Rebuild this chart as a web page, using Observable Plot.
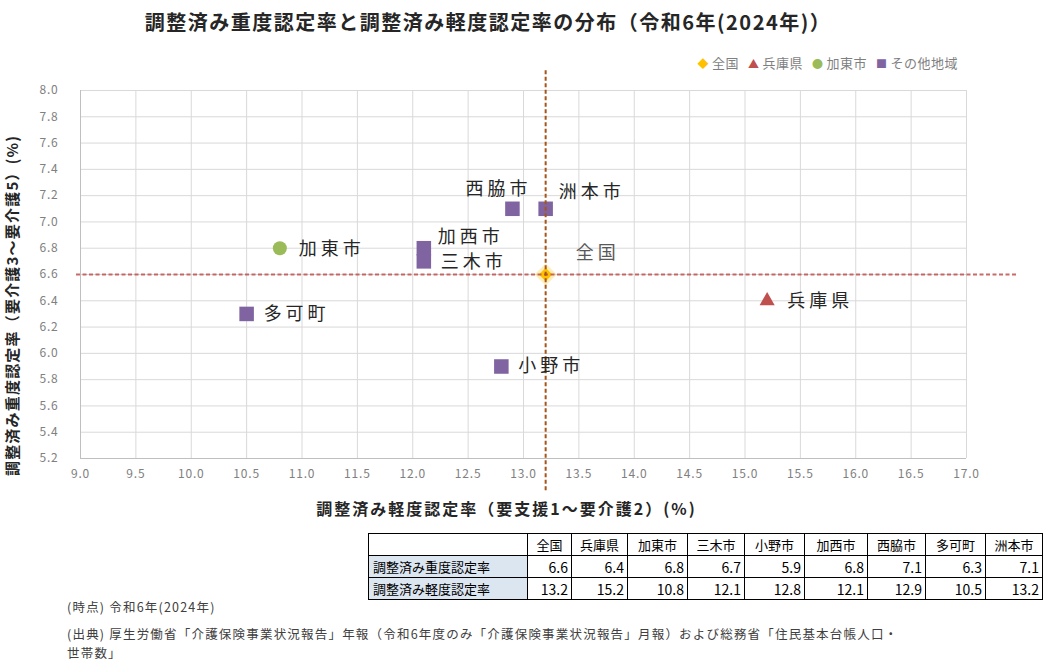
<!DOCTYPE html>
<html lang="ja">
<head>
<meta charset="utf-8">
<script src="https://cdn.jsdelivr.net/npm/d3@7"></script>
<script src="https://cdn.jsdelivr.net/npm/@observablehq/plot@0.6"></script>
<style>
  html, body { margin: 0; padding: 0; }
  body { width: 1049px; height: 662px; position: relative; background: #fff; overflow: hidden;
         font-family: "Noto Sans CJK JP", "Noto Sans", sans-serif; }
  #title { position: absolute; top: 9px; left: 0; width: 976px; text-align: center;
           font-size: 20px; font-weight: bold; letter-spacing: 1.5px; color: #262626; line-height: 26px; }
  #chart { position: absolute; top: 60px; left: 0; }
  #legend { position: absolute; top: 54px; right: 91px; font-size: 13px; color: #7f7f7f; line-height: 18px; white-space: nowrap; letter-spacing: 0.5px; }
  #legend span.sym { font-size: 11px; margin-right: 3px; }
  #legend span.item { margin-left: 9px; }
  #dataTable { position: absolute; left: 368px; top: 533px; border-collapse: collapse; font-size: 13px; color: #000; }
  #dataTable td { border: 1px solid #000; height: 22px; padding: 0 4px; box-sizing: border-box; line-height: 20px; }
  #dataTable td.head { text-align: center; padding: 0; }
  #dataTable td.rowLabel { background: #dce6f1; text-align: left; }
  #dataTable td.val { text-align: right; font-size: 14px; padding-right: 3px; }
  .note { position: absolute; left: 67px; font-size: 12.5px; color: #404040; letter-spacing: 1.2px; white-space: nowrap; line-height: 15px; }
</style>
</head>
<body>
<div id="title"></div>
<div id="chart"></div>
<div id="legend"></div>
<table id="dataTable"></table>
<div class="note" id="note1" style="top:599px"></div>
<div class="note" id="note2" style="top:626px"></div>
<div class="note" id="note3" style="top:645px"></div>
<script>
// ---- Data ----
const regions    = ["全国", "兵庫県", "加東市", "三木市", "小野市", "加西市", "西脇市", "多可町", "洲本市"];
const severeRate = [6.6, 6.4, 6.8, 6.7, 5.9, 6.8, 7.1, 6.3, 7.1];      // 調整済み重度認定率 (y)
const mildRate   = [13.2, 15.2, 10.8, 12.1, 12.8, 12.1, 12.9, 10.5, 13.2]; // 調整済み軽度認定率 (x)
const regionGroup = ["全国", "兵庫県", "加東市", "その他地域", "その他地域", "その他地域", "その他地域", "その他地域", "その他地域"];
const groupNames  = ["全国", "兵庫県", "加東市", "その他地域"];
const xTicks = [9.0, 9.5, 10.0, 10.5, 11.0, 11.5, 12.0, 12.5, 13.0, 13.5, 14.0, 14.5, 15.0, 15.5, 16.0, 16.5, 17.0];
const yTicks = [5.2, 5.4, 5.6, 5.8, 6.0, 6.2, 6.4, 6.6, 6.8, 7.0, 7.2, 7.4, 7.6, 7.8, 8.0];
const tableRowLabels = ["調整済み重度認定率", "調整済み軽度認定率"];
const titleText = "調整済み重度認定率と調整済み軽度認定率の分布（令和6年(2024年)）";
const xLabel = "調整済み軽度認定率（要支援1～要介護2）(%)";
const yLabel = "調整済み重度認定率（要介護3～要介護5）(%)";
const notes = [
  "(時点) 令和6年(2024年)",
  "(出典) 厚生労働省「介護保険事業状況報告」年報（令和6年度のみ「介護保険事業状況報告」月報）および総務省「住民基本台帳人口・",
  "世帯数」"
];

// ---- Styles (kept apart from data) ----
const groupColors  = ["#FFC000", "#C0504D", "#9BBB59", "#8064A2"];
const groupSymbols = ["diamond2", "triangle", "circle", "square"];
const groupRadius  = {"全国": 6, "兵庫県": 5.6, "加東市": 7, "その他地域": 8.2};
const legendGlyphs = ["◆", "▲", "●", "■"];
const refLineXExtent = [8.964, 17.47];
const refLineYExtent = [4.955, 8.17];
const labelLayout = {
  "全国":   {dx: 30,  dy: -21, fill: "#595959"},
  "兵庫県": {dx: 20,  dy: 0,   fill: "#262626"},
  "加東市": {dx: 19,  dy: 1,   fill: "#262626"},
  "三木市": {dx: 17,  dy: 1,   fill: "#262626"},
  "小野市": {dx: 17,  dy: 0,   fill: "#262626"},
  "加西市": {dx: 14,  dy: -11, fill: "#262626"},
  "西脇市": {dx: -47, dy: -20, fill: "#262626"},
  "多可町": {dx: 17,  dy: 0,   fill: "#262626"},
  "洲本市": {dx: 13,  dy: -17, fill: "#262626"}
};

const points = regions.map((r, i) => ({region: r, x: mildRate[i], y: severeRate[i], group: regionGroup[i]}));
const national = points[0];

document.getElementById("title").textContent = titleText;

const chart = Plot.plot({
  width: 1049,
  height: 460,
  marginLeft: 80,
  marginRight: 83,
  marginTop: 30,
  marginBottom: 62,
  style: {fontFamily: "'Noto Sans CJK JP', sans-serif", background: "transparent", overflow: "visible"},
  x: {domain: [9, 17]},
  y: {domain: [5.2, 8.0]},
  r: {type: "identity"},
  color: {domain: groupNames, range: groupColors},
  symbol: {domain: groupNames, range: groupSymbols},
  marks: [
    Plot.gridX(xTicks, {stroke: "#d9d9d9", strokeOpacity: 1}),
    Plot.gridY(yTicks, {stroke: "#d9d9d9", strokeOpacity: 1}),
    Plot.ruleX([9], {stroke: "#bfbfbf"}),
    Plot.ruleY([5.2], {stroke: "#bfbfbf"}),
    Plot.axisX(xTicks, {tickSize: 0, tickPadding: 11, tickFormat: d3.format(".1f"), fontSize: 12, fill: "#808080", label: null}),
    Plot.axisY(yTicks, {tickSize: 0, tickPadding: 22, tickFormat: d3.format(".1f"), fontSize: 12, fill: "#808080", label: null}),
    // glow under the national marker
    Plot.dot([national], {x: "x", y: "y", r: 10, fill: "#FFD966", fillOpacity: 0.45, symbol: "diamond2"}),
    Plot.dot(points, {x: "x", y: "y", symbol: "group", fill: "group", r: d => groupRadius[d.group]}),
    Plot.ruleY([national.y], {x1: refLineXExtent[0], x2: refLineXExtent[1], stroke: "#C0504D", strokeWidth: 2, strokeDasharray: "4,2.5", strokeOpacity: 0.85}),
    Plot.ruleX([national.x], {y1: refLineYExtent[0], y2: refLineYExtent[1], stroke: "#A5541A", strokeWidth: 2, strokeDasharray: "4,2.5"}),
    ...regions.map(name => Plot.text(points.filter(p => p.region === name), {
      x: "x", y: "y", text: "region", textAnchor: "start", lineAnchor: "middle",
      dx: labelLayout[name].dx, dy: labelLayout[name].dy, fill: labelLayout[name].fill, fontSize: 18
    })),
    Plot.text([xLabel], {text: d => d, frameAnchor: "bottom", textAnchor: "middle", lineAnchor: "middle", dx: -17, dy: 51, fontSize: 16, fontWeight: "bold", fill: "#262626"}),
    Plot.text([yLabel], {text: d => d, frameAnchor: "left", textAnchor: "middle", lineAnchor: "middle", rotate: -90, dx: -67, dy: 31, fontSize: 15, fontWeight: "bold", fill: "#262626"})
  ]
});

// letter spacing tweaks
d3.select(chart).selectAll("text").each(function() {
  const t = this.textContent;
  if (regions.includes(t)) this.setAttribute("letter-spacing", "4");
  else if (t === xLabel) this.setAttribute("letter-spacing", "2");
  else if (t === yLabel) this.setAttribute("letter-spacing", "1.2");
  else this.setAttribute("letter-spacing", "0.8");
});
document.getElementById("chart").appendChild(chart);

// legend
const legend = document.getElementById("legend");
groupNames.forEach((g, i) => {
  const item = document.createElement("span");
  item.className = "item";
  const sym = document.createElement("span");
  sym.className = "sym";
  sym.style.color = groupColors[i];
  sym.textContent = legendGlyphs[i];
  item.appendChild(sym);
  item.appendChild(document.createTextNode(g));
  legend.appendChild(item);
});

// table
const colWidths = [159, 44, 56, 60, 57, 60, 63, 58, 60, 57];
const table = document.getElementById("dataTable");
const head = table.insertRow();
const c0 = head.insertCell(); c0.style.width = colWidths[0] + "px";
regions.forEach((r, i) => {
  const c = head.insertCell();
  c.className = "head";
  c.style.width = colWidths[i + 1] + "px";
  c.textContent = r;
});
[severeRate, mildRate].forEach((arr, k) => {
  const row = table.insertRow();
  const lab = row.insertCell();
  lab.className = "rowLabel";
  lab.textContent = tableRowLabels[k];
  arr.forEach(v => {
    const c = row.insertCell();
    c.className = "val";
    c.textContent = v.toFixed(1);
  });
});

// notes
document.getElementById("note1").textContent = notes[0];
document.getElementById("note2").textContent = notes[1];
document.getElementById("note3").textContent = notes[2];
</script>
</body>
</html>
